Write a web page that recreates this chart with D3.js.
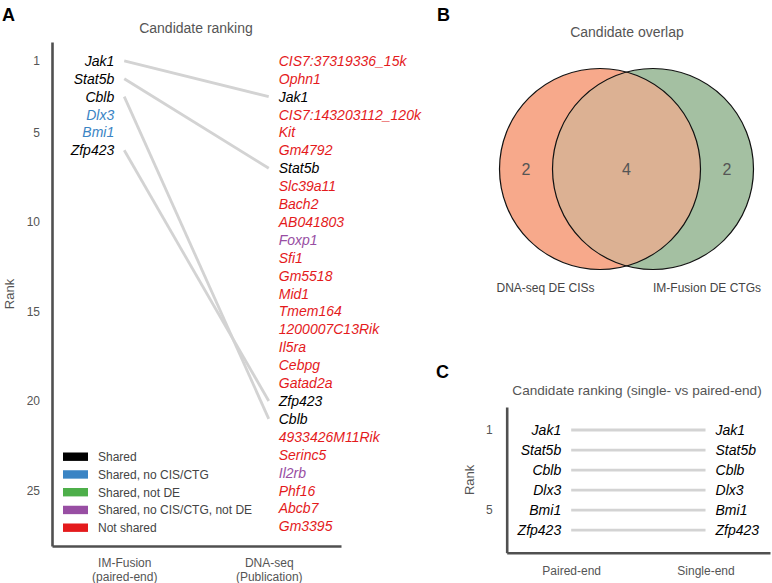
<!DOCTYPE html>
<html><head><meta charset="utf-8">
<script src="https://cdn.jsdelivr.net/npm/d3@7"></script>
<style>
html,body{margin:0;padding:0;background:#fff;}
svg{display:block;font-family:"Liberation Sans",Arial,sans-serif;}
</style></head>
<body>
<svg id="chart" width="772" height="583"></svg>
<script>
// ---------- DATA ----------
const pairedRanking = ["Jak1","Stat5b","Cblb","Dlx3","Bmi1","Zfp423"];
const pairedCategory = ["Shared","Shared","Shared","Shared, no CIS/CTG","Shared, no CIS/CTG","Shared"];
const publicationRanking = ["CIS7:37319336_15k","Ophn1","Jak1","CIS7:143203112_120k","Kit","Gm4792","Stat5b","Slc39a11","Bach2","AB041803","Foxp1","Sfi1","Gm5518","Mid1","Tmem164","1200007C13Rik","Il5ra","Cebpg","Gatad2a","Zfp423","Cblb","4933426M11Rik","Serinc5","Il2rb","Phf16","Abcb7","Gm3395"];
const publicationCategory = ["Not shared","Not shared","Shared","Not shared","Not shared","Not shared","Shared","Not shared","Not shared","Not shared","Shared, no CIS/CTG, not DE","Not shared","Not shared","Not shared","Not shared","Not shared","Not shared","Not shared","Not shared","Shared","Shared","Not shared","Not shared","Shared, no CIS/CTG, not DE","Not shared","Not shared","Not shared"];
const singleEndRanking = ["Jak1","Stat5b","Cblb","Dlx3","Bmi1","Zfp423"];
const categories = ["Shared","Shared, no CIS/CTG","Shared, not DE","Shared, no CIS/CTG, not DE","Not shared"];
const categoryColors = ["#000000","#3a84c4","#4daf4a","#984ea3","#e41a1c"];
const rankTicksA = [1,5,10,15,20,25];
const columnsA = ["IM-Fusion|(paired-end)","DNA-seq|(Publication)"];
const vennSetLabels = ["DNA-seq DE CISs","IM-Fusion DE CTGs"];
const vennCounts = [2,4,2]; // left only, both, right only
const rankTicksC = [1,5];
const columnsC = ["Paired-end","Single-end"];

// ---------- SETUP ----------
const svg = d3.select("#chart");
const color = d3.scaleOrdinal().domain(categories).range(categoryColors);
const spineColor = "#505050", textGray = "#555", linkColor = "#d3d3d3";

function styleAxis(g){
  g.select(".domain").attr("stroke",spineColor).attr("stroke-width",2.6);
  g.selectAll("text").attr("fill",textGray).attr("font-size",12)
    .attr("font-family","Liberation Sans, Arial, sans-serif");
}

// ---------- PANEL A ----------
const A = svg.append("g");
A.append("text").attr("x",2).attr("y",21).text("A").attr("font-weight","bold").attr("font-size",18);
A.append("text").attr("x",196).attr("y",33).attr("text-anchor","middle").attr("font-size",14).attr("fill",textGray).text("Candidate ranking");

const yA = d3.scaleLinear().domain([-0.05,28.1]).range([42,546]);
const xA = d3.scalePoint().domain(columnsA).range([52,341]).padding(0.5);

A.append("g").attr("transform","translate(52,0)")
  .call(d3.axisLeft(yA).tickValues(rankTicksA).tickSize(0).tickSizeOuter(0).tickPadding(12))
  .call(styleAxis);
const bx = A.append("g").attr("transform","translate(0,546)")
  .call(d3.axisBottom(xA).tickSize(0).tickSizeOuter(0).tickPadding(0).tickFormat(""))
  .call(styleAxis);
bx.selectAll(".tick").append("text").attr("fill",textGray).attr("font-size",12).attr("text-anchor","middle")
  .selectAll("tspan").data(d=>d.split("|")).join("tspan")
  .attr("x",0).attr("y",(d,i)=>21+i*14).text(d=>d);

A.append("text").attr("transform",`translate(14,${(42+546)/2}) rotate(-90)`)
  .attr("text-anchor","middle").attr("font-size",13).attr("fill",textGray).text("Rank");

// links
const linksA = pairedRanking.map((g,i)=>({g, from:i+1, to:publicationRanking.indexOf(g)+1})).filter(d=>d.to>0);
A.append("g").selectAll("line").data(linksA).join("line")
  .attr("x1",xA(columnsA[0])).attr("x2",xA(columnsA[1]))
  .attr("y1",d=>yA(d.from)).attr("y2",d=>yA(d.to))
  .attr("stroke",linkColor).attr("stroke-width",2.8);

A.append("g").selectAll("text").data(pairedRanking).join("text")
  .attr("x",xA(columnsA[0])-10).attr("y",(d,i)=>yA(i+1)).attr("dy","0.36em")
  .attr("text-anchor","end").attr("font-style","italic").attr("font-size",14)
  .attr("fill",(d,i)=>color(pairedCategory[i])).text(d=>d);
A.append("g").selectAll("text").data(publicationRanking).join("text")
  .attr("x",xA(columnsA[1])+10).attr("y",(d,i)=>yA(i+1)).attr("dy","0.36em")
  .attr("font-style","italic").attr("font-size",14)
  .attr("fill",(d,i)=>color(publicationCategory[i])).text(d=>d);

// legend
const leg = A.append("g").selectAll("g").data(categories).join("g")
  .attr("transform",(d,i)=>`translate(63,${456.7+i*17.75})`);
leg.append("rect").attr("x",0).attr("y",-4.2).attr("width",25).attr("height",8.4).attr("fill",d=>color(d));
leg.append("text").attr("x",35).attr("y",0).attr("dy","0.36em").attr("font-size",12).attr("fill","#444").text(d=>d);

// ---------- PANEL B ----------
const B = svg.append("g");
B.append("text").attr("x",437).attr("y",21).text("B").attr("font-weight","bold").attr("font-size",18);
B.append("text").attr("x",627).attr("y",37).attr("text-anchor","middle").attr("font-size",14).attr("fill",textGray).text("Candidate overlap");

const xV = d3.scaleLinear().domain([-1,1]).range([600,653]);
const cy = 169, r = 100.5;
const circles = [{cx:xV(-1)},{cx:xV(1)}];
const defs = svg.append("defs");
defs.append("clipPath").attr("id","clipL").append("circle").attr("cx",circles[0].cx).attr("cy",cy).attr("r",r);
B.append("circle").attr("cx",circles[0].cx).attr("cy",cy).attr("r",r).attr("fill","#f7a98b");
B.append("circle").attr("cx",circles[1].cx).attr("cy",cy).attr("r",r).attr("fill","#a4c0a2");
B.append("circle").attr("cx",circles[1].cx).attr("cy",cy).attr("r",r).attr("fill","#dcb193").attr("clip-path","url(#clipL)");
B.selectAll("circle.o").data(circles).join("circle").attr("class","o")
  .attr("cx",d=>d.cx).attr("cy",cy).attr("r",r).attr("fill","none").attr("stroke","#111").attr("stroke-width",1.2);
const numX = [526, 626.5, 727];
B.append("g").selectAll("text").data(vennCounts).join("text")
  .attr("x",(d,i)=>numX[i]).attr("y",cy).attr("dy","0.36em").attr("text-anchor","middle")
  .attr("font-size",16).attr("fill","#555").text(d=>d);
B.append("g").selectAll("text").data(vennSetLabels).join("text")
  .attr("x",(d,i)=>[545.5,707][i]).attr("y",292).attr("text-anchor","middle")
  .attr("font-size",12).attr("fill","#444").text(d=>d);

// ---------- PANEL C ----------
const C = svg.append("g");
C.append("text").attr("x",436).attr("y",378).text("C").attr("font-weight","bold").attr("font-size",18);
C.append("text").attr("x",637).attr("y",395).attr("text-anchor","middle").attr("font-size",13.6).attr("fill",textGray)
  .text("Candidate ranking (single- vs paired-end)");

const yC = d3.scaleLinear().domain([-0.15,7.13]).range([407,552.7]);
const xC = d3.scalePoint().domain(columnsC).range([506.7,770]).padding(0.48);
C.append("g").attr("transform","translate(506.7,0)")
  .call(d3.axisLeft(yC).tickValues(rankTicksC).tickSize(0).tickSizeOuter(0).tickPadding(14))
  .call(styleAxis);
C.append("g").attr("transform","translate(0,552.7)")
  .call(d3.axisBottom(xC).tickSize(0).tickSizeOuter(0).tickPadding(14))
  .call(styleAxis);
C.append("text").attr("transform",`translate(474,${(407+552.7)/2}) rotate(-90)`)
  .attr("text-anchor","middle").attr("font-size",13).attr("fill",textGray).text("Rank");

const linksC = pairedRanking.map((g,i)=>({g, from:i+1, to:singleEndRanking.indexOf(g)+1})).filter(d=>d.to>0);
C.append("g").selectAll("line").data(linksC).join("line")
  .attr("x1",xC(columnsC[0])).attr("x2",xC(columnsC[1]))
  .attr("y1",d=>yC(d.from)).attr("y2",d=>yC(d.to))
  .attr("stroke",linkColor).attr("stroke-width",2.8);
C.append("g").selectAll("text").data(pairedRanking).join("text")
  .attr("x",xC(columnsC[0])-10).attr("y",(d,i)=>yC(i+1)).attr("dy","0.36em")
  .attr("text-anchor","end").attr("font-style","italic").attr("font-size",14).attr("fill","#000").text(d=>d);
C.append("g").selectAll("text").data(singleEndRanking).join("text")
  .attr("x",xC(columnsC[1])+10).attr("y",(d,i)=>yC(i+1)).attr("dy","0.36em")
  .attr("font-style","italic").attr("font-size",14).attr("fill","#000").text(d=>d);
</script>
</body></html>
